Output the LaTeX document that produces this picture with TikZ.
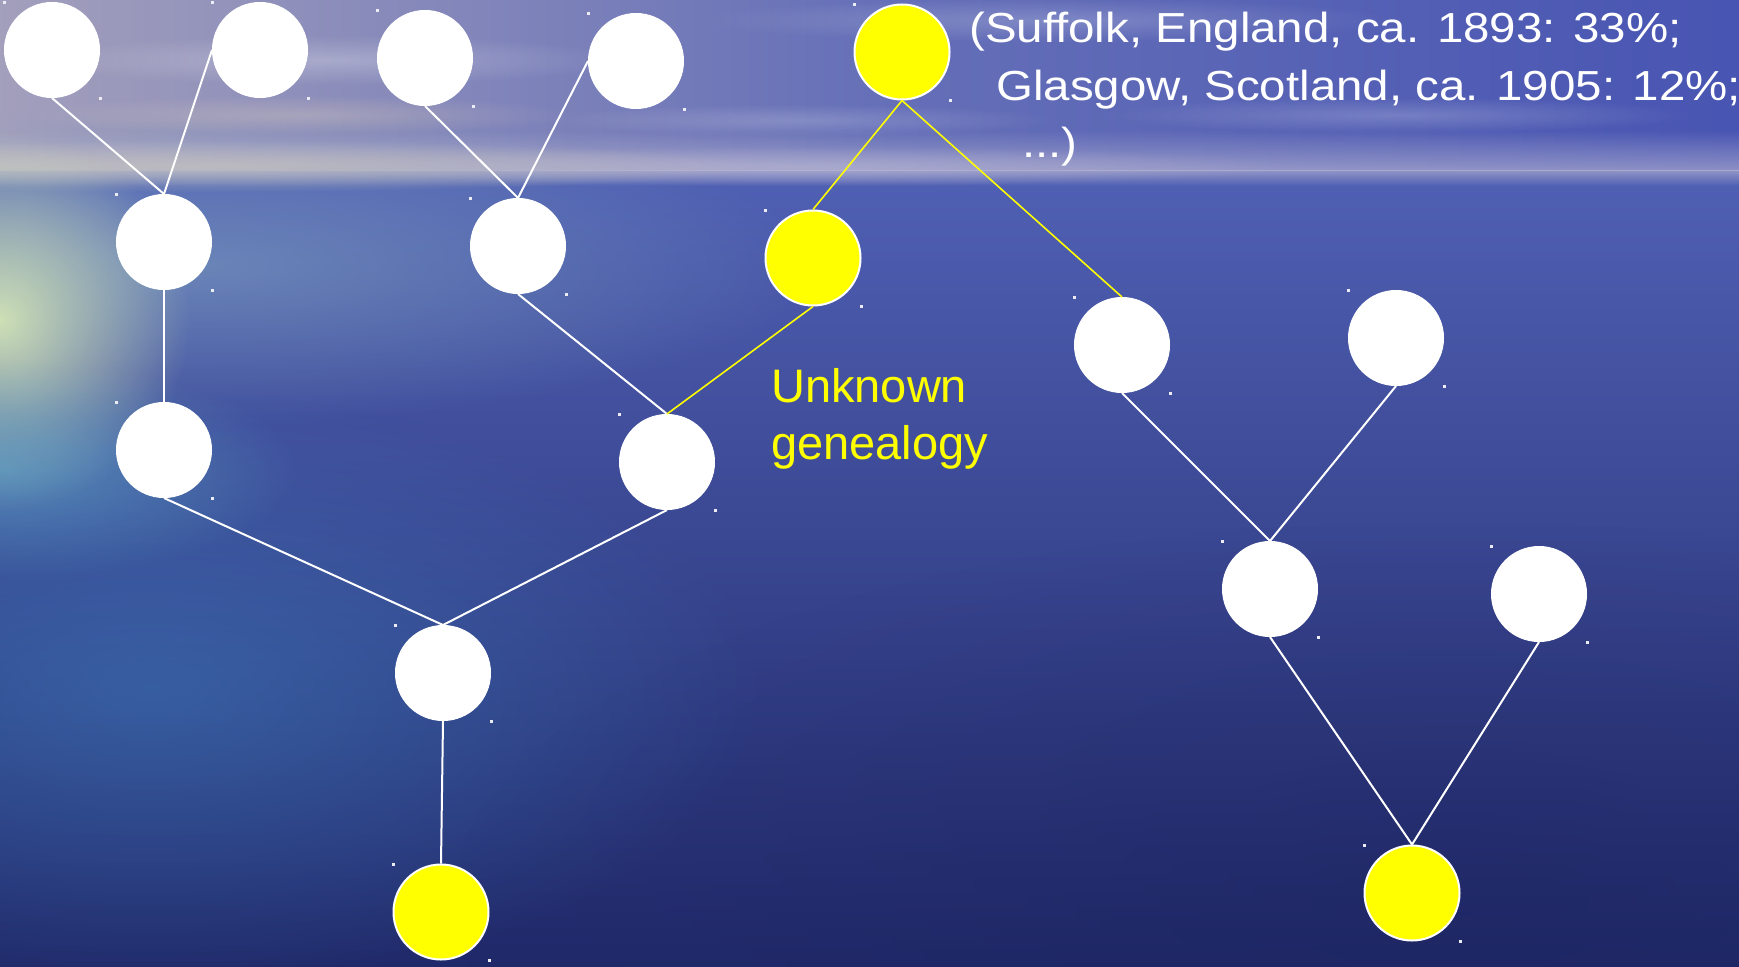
\documentclass[tikz,border=0pt]{standalone}
\usepackage{fontspec}
\setmainfont{Liberation Sans}
\newfontfamily\topfont[FakeStretch=1.13]{Liberation Sans}
\usetikzlibrary{fadings}
\definecolor{skyL}{HTML}{A4A0BC}
\definecolor{skyM}{HTML}{6670B8}
\definecolor{skyR}{HTML}{4754B2}
\definecolor{horiz}{HTML}{BDBAD4}
\definecolor{warm}{HTML}{DCCCBE}
\definecolor{oceanT}{HTML}{5060B4}
\definecolor{oceanM}{HTML}{33409E}
\definecolor{oceanB}{HTML}{1F2868}
\definecolor{glow}{HTML}{D4E6B6}
\definecolor{teal}{HTML}{70C0D0}
\definecolor{lblue}{HTML}{4088C6}
\definecolor{greyteal}{HTML}{80A2C0}
\definecolor{deep}{HTML}{1A2058}
\definecolor{ylw}{HTML}{FFFF00}
\definecolor{dotc}{HTML}{ECECF4}
\tikzfading[name=fadetodown, top color=transparent!100, bottom color=transparent!0]
\tikzfading[name=fadefromup, top color=transparent!0, bottom color=transparent!100]
\tikzfading[name=softglow, inner color=transparent!0, outer color=transparent!100]
\tikzset{
  pw/.style={circle, minimum size=95pt, inner sep=0pt, fill=white, draw=white, line width=1pt},
  py/.style={pw, fill=ylw, line width=2pt},
  edgew/.style={white, line width=2pt},
  edgey/.style={ylw, line width=1.6pt},
  toptext/.style={anchor=base west, inner sep=0pt, text=white, font=\topfont\fontsize{42}{50}\selectfont},
  unktext/.style={anchor=base west, inner sep=0pt, text=ylw, font=\fontsize{47}{57}\selectfont}
}
\begin{document}
\begin{tikzpicture}[x=1pt,y=-1pt]
\useasboundingbox (0,0) rectangle (1739,966);
\begin{scope}
\clip (0,0) rectangle (1739,966);
% ---------- background ----------
\shade[left color=skyL, right color=skyR, middle color=skyM] (-20,-20) rectangle (1760,172);
\fill[white, opacity=0.25, path fading=softglow] (330,60) ellipse (300 and 25);
\fill[warm, opacity=0.35, path fading=softglow] (300,115) ellipse (280 and 20);
\fill[white, opacity=0.2, path fading=softglow] (1050,20) ellipse (350 and 22);
\fill[white, opacity=0.2, path fading=softglow] (1400,115) ellipse (300 and 18);
\fill[white, opacity=0.18, path fading=softglow] (800,120) ellipse (260 and 16);
\shade[top color=oceanT, middle color=oceanM, bottom color=oceanB] (-20,170) rectangle (1760,986);
% horizon band
\fill[horiz, opacity=0.6, path fading=fadetodown] (-20,130) rectangle (1760,171);
\fill[horiz, opacity=0.6, path fading=fadefromup] (-20,170) rectangle (1760,186);
\fill[warm, opacity=0.75, path fading=softglow] (200,166) ellipse (560 and 26);
\fill[horiz, opacity=0.5, path fading=softglow] (800,166) ellipse (500 and 20);
% ocean lights
\fill[greyteal, opacity=0.6, path fading=softglow] (200,265) ellipse (620 and 160);
\fill[glow, opacity=0.95, path fading=softglow] (0,320) ellipse (190 and 190);
\fill[teal, opacity=0.55, path fading=softglow] (0,470) ellipse (300 and 110);
\fill[lblue, opacity=0.45, path fading=softglow] (150,690) ellipse (620 and 300);
\fill[deep, opacity=0.35, path fading=softglow] (1450,900) ellipse (1000 and 380);
\end{scope}
% ---------- nodes ----------
\node[pw] (n1) at (52,50) {};
\node[pw] (n2) at (260,50) {};
\node[pw] (n3) at (425,58) {};
\node[pw] (n4) at (636,61) {};
\node[py] (n5) at (902,52) {};
\node[pw] (n6) at (164,242) {};
\node[pw] (n7) at (518,246) {};
\node[py] (n8) at (813,258) {};
\node[pw] (n9) at (1122,345) {};
\node[pw] (n10) at (1396,338) {};
\node[pw] (n11) at (164,450) {};
\node[pw] (n12) at (667,462) {};
\node[pw] (n13) at (1270,589) {};
\node[pw] (n14) at (1539,594) {};
\node[pw] (n15) at (443,673) {};
\node[py] (n16) at (441,912) {};
\node[py] (n17) at (1412,893) {};
\foreach \n in {n1,n2,n3,n4,n5,n6,n7,n8,n9,n10,n11,n12,n13,n14,n15,n16,n17}{
  \fill[dotc] ([shift={(-49,-49)}]\n.center) rectangle ++(3,3);
  \fill[dotc] ([shift={(47,47)}]\n.center) rectangle ++(3,3);
}
% ---------- connectors ----------
\draw[edgew] (n1.south) -- (n6.north);
\draw[edgew] (n2.west) -- (n6.north);
\draw[edgew] (n3.south) -- (n7.north);
\draw[edgew] (n4.west) -- (n7.north);
\draw[edgey] (n5.south) -- (n8.north);
\draw[edgey] (n5.south) -- (n9.north);
\draw[edgew] (n6.south) -- (n11.north);
\draw[edgew] (n7.south) -- (n12.north);
\draw[edgey] (n8.south) -- (n12.north);
\draw[edgew] (n11.south) -- (n15.north);
\draw[edgew] (n12.south) -- (n15.north);
\draw[edgew] (n15.south) -- (n16.north);
\draw[edgew] (n9.south) -- (n13.north);
\draw[edgew] (n10.south) -- (n13.north);
\draw[edgew] (n13.south) -- (n17.north);
\draw[edgew] (n14.south) -- (n17.north);
% ---------- texts ----------
\node[toptext] (t1) at (969,43) {(Suffolk, England, ca. 1893: 33\%;};
\node[toptext] (t2) at (996,100) {Glasgow, Scotland, ca. 1905: 12\%;};
\node[toptext] (t3) at (1022,157) {...)};
\node[unktext] (u1) at (771,402) {Unknown};
\node[unktext] (u2) at (771,459) {genealogy};
\end{tikzpicture}
\end{document}
